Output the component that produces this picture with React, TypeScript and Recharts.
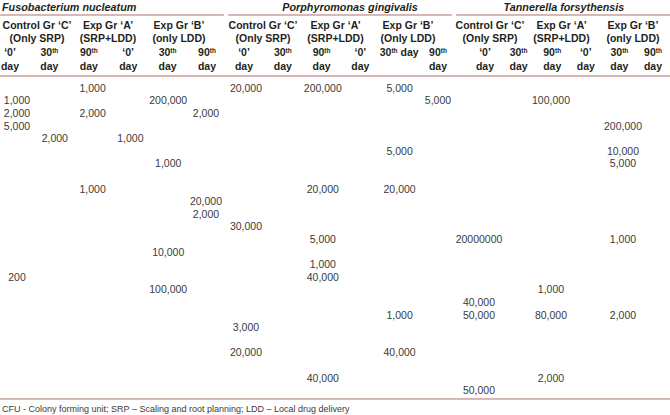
import { ScatterChart, Scatter, XAxis, YAxis, ReferenceLine, Label } from 'recharts';

const species = ['Fusobacterium nucleatum', 'Porphyromonas gingivalis', 'Tannerella forsythensis'];
const groupNames = ['Control Gr ‘C’', 'Exp Gr ‘A’', 'Exp Gr ‘B’'];
const treatments = [
  ['(Only SRP)', '(SRP+LDD)', '(only LDD)'],
  ['(Only SRP)', '(SRP+LDD)', '(Only LDD)'],
  ['(Only SRP)', '(SRP+LDD)', '(only LDD)'],
];
const dayNumbers = [
  ['‘0’', '30th', '90th', '‘0’', '30th', '90th'],
  ['‘0’', '30th', '90th', '‘0’', '30th day', '90th'],
  ['‘0’', '30th', '90th', '‘0’', '30th', '90th'],
];
const dayWords = [
  ['day', 'day', 'day', 'day', 'day', 'day'],
  ['day', 'day', 'day', 'day', '', 'day'],
  ['day', 'day', 'day', 'day', 'day', 'day'],
];

// CFU counts as [column, table row, value]
const fusobacterium = [
  [2, 0, '1,000'],
  [0, 1, '1,000'], [4, 1, '200,000'],
  [0, 2, '2,000'], [2, 2, '2,000'], [5, 2, '2,000'],
  [0, 3, '5,000'],
  [1, 4, '2,000'], [3, 4, '1,000'],
  [4, 6, '1,000'],
  [2, 8, '1,000'],
  [5, 9, '20,000'],
  [5, 10, '2,000'],
  [4, 13, '10,000'],
  [0, 15, '200'],
  [4, 16, '100,000'],
];
const porphyromonas = [
  [0, 0, '20,000'], [2, 0, '200,000'], [4, 0, '5,000'],
  [5, 1, '5,000'],
  [4, 5, '5,000'],
  [2, 8, '20,000'], [4, 8, '20,000'],
  [0, 11, '30,000'],
  [2, 12, '5,000'],
  [2, 14, '1,000'],
  [2, 15, '40,000'],
  [4, 18, '1,000'],
  [0, 19, '3,000'],
  [0, 21, '20,000'], [4, 21, '40,000'],
  [2, 23, '40,000'],
];
const tannerella = [
  [2, 1, '100,000'],
  [4, 3, '200,000'],
  [4, 5, '10,000'],
  [4, 6, '5,000'],
  [0, 12, '20000000'], [4, 12, '1,000'],
  [2, 16, '1,000'],
  [0, 17, '40,000'],
  [0, 18, '50,000'], [2, 18, '80,000'], [4, 18, '2,000'],
  [2, 23, '2,000'],
  [0, 24, '50,000'],
];
const cells = [fusobacterium, porphyromonas, tannerella];

const footnote = 'CFU - Colony forming unit; SRP – Scaling and root planning; LDD – Local drug delivery';

const W = 670;
const H = 415;
const FONT = '"Liberation Sans", Arial, Helvetica, sans-serif';
const INK = '#231f20';
const CELL_INK = '#3a3a3a';
const RULE = '#b0706a';

// pixel position of first and last slot in each species block
const headSpan = [[10, 207], [244, 438], [485, 653]];
const groupSpan = [[37, 179], [263, 408], [490, 633]];
const bodySpan = [[17, 206], [246, 438], [479, 659]];
const underline = [[-0.25, 5.43], [-0.41, 5.36], [-0.86, 5.51]];
const titleAlign = ['start', 'middle', 'middle'];
const titleSlot = [0, 2.71, 2.36];

const pad = (span: number[]) => ({ left: span[0], right: W - span[1] });

function Ordinal({ text }: { text: string }) {
  const m = text.match(/^(\d+)th(.*)$/);
  if (!m) return <>{text}</>;
  return (
    <>
      {m[1]}
      <tspan fontSize={6.5} dy={-3.5}>th</tspan>
      {m[2] ? <tspan dy={3.5}>{m[2]}</tspan> : null}
    </>
  );
}

function HeadShape(props: any) {
  const { cx, cy, payload } = props;
  return (
    <text x={cx} y={cy + 3.8} textAnchor="middle" fontFamily={FONT} fontSize={10.5} fontWeight="bold" fill={INK}>
      <Ordinal text={payload.text} />
    </text>
  );
}

function TitleShape(props: any) {
  const { cx, cy, payload } = props;
  const start = payload.align === 'start';
  return (
    <text x={start ? cx - 15 : cx} y={cy - 0.5} textAnchor={start ? 'start' : 'middle'} fontFamily={FONT}
      fontSize={10.8} fontWeight="bold" fontStyle="italic" fill={INK}>
      {payload.text}
    </text>
  );
}

function CellShape(props: any) {
  const { cx, cy, payload } = props;
  return (
    <text x={cx} y={cy + 3.8} textAnchor="middle" fontFamily={FONT} fontSize={10.5} fill={CELL_INK}>
      {payload.text}
    </text>
  );
}

function Footnote(props: any) {
  const vb = props.viewBox || {};
  return (
    <text x={(vb.x ?? 0) + 2} y={(vb.y ?? 0) + 13} fontFamily={FONT} fontSize={9} fill={CELL_INK}>
      {footnote}
    </text>
  );
}

export default function App() {
  const axes: any[] = [];
  const series: any[] = [];
  const rules: any[] = [];

  species.forEach((name, s) => {
    axes.push(
      <XAxis key={`hx${s}`} xAxisId={`head${s}`} type="number" dataKey="col" domain={[0, 5]}
        hide padding={pad(headSpan[s])} />,
      <XAxis key={`gx${s}`} xAxisId={`group${s}`} type="number" dataKey="col" domain={[0, 2]}
        hide padding={pad(groupSpan[s])} />,
      <XAxis key={`bx${s}`} xAxisId={`body${s}`} type="number" dataKey="col" domain={[0, 5]}
        hide padding={pad(bodySpan[s])} />
    );

    const dayHeads = [
      ...dayNumbers[s].map((text, col) => ({ col, row: 3, text })),
      ...dayWords[s].map((text, col) => ({ col, row: 4, text })).filter((p) => p.text),
    ];
    const groupHeads = [
      ...groupNames.map((text, col) => ({ col, row: 1, text })),
      ...treatments[s].map((text, col) => ({ col, row: 2, text })),
    ];
    const title = [{ col: titleSlot[s], row: 0, text: name, align: titleAlign[s] }];
    const values = cells[s].map(([col, row, text]) => ({ col, row, text }));

    series.push(
      <Scatter key={`t${s}`} data={title} xAxisId={`body${s}`} yAxisId="head" shape={TitleShape} isAnimationActive={false} />,
      <Scatter key={`g${s}`} data={groupHeads} xAxisId={`group${s}`} yAxisId="head" shape={HeadShape} isAnimationActive={false} />,
      <Scatter key={`d${s}`} data={dayHeads} xAxisId={`head${s}`} yAxisId="head" shape={HeadShape} isAnimationActive={false} />,
      <Scatter key={`v${s}`} data={values} xAxisId={`body${s}`} yAxisId="body" shape={CellShape} isAnimationActive={false} />
    );

    rules.push(
      <ReferenceLine key={`ul${s}`} xAxisId={`head${s}`} yAxisId="head" ifOverflow="visible" stroke={RULE}
        segment={[{ x: underline[s][0], y: 0.27 }, { x: underline[s][1], y: 0.27 }]} />
    );
  });

  return (
    <div style={{ position: 'absolute', left: 0, top: 0, width: W, height: H, background: '#fff' }}>
      <ScatterChart width={W} height={H} margin={{ top: 0, right: 0, bottom: 0, left: 0 }}>
        {axes}
        <YAxis yAxisId="head" type="number" dataKey="row" domain={[0, 4]} reversed hide
          padding={{ top: 11.3, bottom: H - 66 }} />
        <YAxis yAxisId="body" type="number" dataKey="row" domain={[0, 24]} reversed hide
          padding={{ top: 88, bottom: H - 390.4 }} />
        {rules}
        <ReferenceLine xAxisId="body0" yAxisId="head" y={4.73} ifOverflow="visible" stroke={RULE} />
        <ReferenceLine xAxisId="body0" yAxisId="body" y={24.68} ifOverflow="visible" stroke={RULE}>
          <Label content={Footnote} />
        </ReferenceLine>
        {series}
      </ScatterChart>
    </div>
  );
}
